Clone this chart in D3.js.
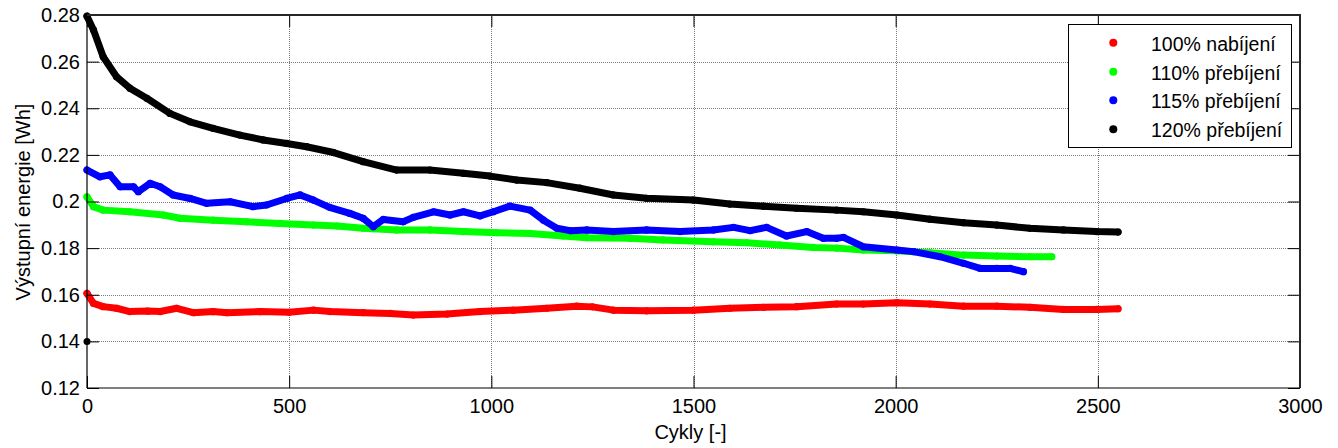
<!DOCTYPE html>
<html>
<head>
<meta charset="utf-8">
<script src="https://cdn.jsdelivr.net/npm/d3@7"></script>
<style>
  html, body { margin: 0; padding: 0; background: #fff; }
  svg { display: block; font-family: "Liberation Sans", Arial, sans-serif; }
</style>
</head>
<body>
<svg id="chart" width="1338" height="448"></svg>
<script>
// ---- data ----
const seriesNames = ["100% nabíjení", "110% přebíjení", "115% přebíjení", "120% přebíjení"];
const seriesColors = ["#ff0000", "#00ff00", "#0000ff", "#000000"];

const redCycles = [0, 16, 40, 73, 106, 150, 181, 222, 263, 312, 346, 428, 500, 560, 601, 683, 750, 807, 890, 972, 1054, 1137, 1211, 1250, 1302, 1384, 1500, 1590, 1673, 1755, 1854, 1920, 2003, 2085, 2168, 2250, 2332, 2415, 2497, 2550];
const redValues = [0.1606, 0.1563, 0.1549, 0.1542, 0.1528, 0.1530, 0.1528, 0.1542, 0.1523, 0.1528, 0.1523, 0.1528, 0.1525, 0.1534, 0.1528, 0.1523, 0.1520, 0.1513, 0.1517, 0.1528, 0.1534, 0.1542, 0.1551, 0.1548, 0.1534, 0.1531, 0.1534, 0.1542, 0.1546, 0.1549, 0.1560, 0.1560, 0.1566, 0.1560, 0.1551, 0.1551, 0.1546, 0.1537, 0.1537, 0.1540];

const greenCycles = [0, 16, 40, 106, 189, 230, 312, 395, 477, 560, 618, 683, 766, 848, 931, 1013, 1096, 1178, 1236, 1343, 1425, 1549, 1632, 1714, 1796, 1854, 1920, 2003, 2085, 2168, 2250, 2332, 2386];
const greenValues = [0.2020, 0.1978, 0.1963, 0.1956, 0.1942, 0.1928, 0.1920, 0.1913, 0.1906, 0.1899, 0.1895, 0.1885, 0.1878, 0.1878, 0.1871, 0.1866, 0.1863, 0.1852, 0.1845, 0.1842, 0.1835, 0.1827, 0.1823, 0.1813, 0.1803, 0.1800, 0.1792, 0.1789, 0.1780, 0.1770, 0.1766, 0.1763, 0.1763];

const blueCycles = [0, 32, 57, 82, 115, 127, 156, 181, 213, 255, 296, 354, 411, 444, 494, 527, 560, 600, 650, 683, 708, 733, 782, 807, 857, 898, 931, 972, 1005, 1046, 1096, 1129, 1162, 1195, 1236, 1302, 1384, 1467, 1549, 1599, 1640, 1681, 1730, 1780, 1821, 1854, 1871, 1920, 2003, 2044, 2110, 2168, 2209, 2250, 2283, 2316];
const blueValues = [0.2135, 0.2106, 0.2114, 0.2063, 0.2063, 0.2042, 0.2078, 0.2063, 0.2028, 0.2013, 0.1992, 0.1999, 0.1978, 0.1985, 0.2013, 0.2028, 0.2006, 0.1975, 0.1949, 0.1928, 0.1892, 0.1923, 0.1913, 0.1932, 0.1956, 0.1942, 0.1956, 0.1938, 0.1956, 0.1980, 0.1963, 0.1920, 0.1885, 0.1875, 0.1878, 0.1871, 0.1878, 0.1871, 0.1878, 0.1889, 0.1875, 0.1889, 0.1852, 0.1871, 0.1842, 0.1842, 0.1846, 0.1806, 0.1792, 0.1785, 0.1763, 0.1735, 0.1713, 0.1713, 0.1713, 0.1699];

const blackCycles = [0, 16, 40, 73, 106, 148, 205, 255, 312, 378, 436, 494, 543, 610, 683, 766, 848, 931, 997, 1063, 1137, 1219, 1302, 1384, 1500, 1590, 1673, 1755, 1854, 1920, 2003, 2085, 2168, 2250, 2332, 2415, 2497, 2550];
const blackValues = [0.2795, 0.2736, 0.2621, 0.2535, 0.2486, 0.2443, 0.2378, 0.2342, 0.2314, 0.2285, 0.2264, 0.2249, 0.2235, 0.2210, 0.2171, 0.2135, 0.2135, 0.2121, 0.2109, 0.2092, 0.2081, 0.2057, 0.2028, 0.2014, 0.2006, 0.1989, 0.1980, 0.1971, 0.1963, 0.1956, 0.1942, 0.1924, 0.1909, 0.1899, 0.1885, 0.1878, 0.1871, 0.1869];
// first measurement of the 120% series (outlier)
const blackOutlierCycles = [0];
const blackOutlierValues = [0.14];

const xTicks = [0, 500, 1000, 1500, 2000, 2500, 3000];
const xTickLabels = ["0", "500", "1000", "1500", "2000", "2500", "3000"];
const yTicks = [0.12, 0.14, 0.16, 0.18, 0.2, 0.22, 0.24, 0.26, 0.28];
const yTickLabels = ["0.12", "0.14", "0.16", "0.18", "0.2", "0.22", "0.24", "0.26", "0.28"];
const xTitle = "Cykly [-]";
const yTitle = "Výstupní energie [Wh]";

// ---- layout ----
const L = 87, R = 1300, T = 15, B = 388;
const svg = d3.select("#chart");
svg.append("rect").attr("width", 1338).attr("height", 448).attr("fill", "#fff");

const x = d3.scaleLinear().domain([0, 3000]).range([L, R]);
const y = d3.scaleLinear().domain([0.12, 0.28]).range([B, T]);

// grid
const grid = svg.append("g").attr("stroke", "#7a7a7a").attr("stroke-width", 1).attr("stroke-dasharray", "1,1").attr("shape-rendering", "crispEdges");
grid.selectAll("line.v").data(xTicks.slice(1, -1)).join("line")
  .attr("x1", d => Math.round(x(d)) + 0.5).attr("x2", d => Math.round(x(d)) + 0.5)
  .attr("y1", T).attr("y2", B);
grid.selectAll("line.h").data(yTicks.slice(1, -1)).join("line")
  .attr("x1", L).attr("x2", R)
  .attr("y1", d => Math.round(y(d)) + 0.5).attr("y2", d => Math.round(y(d)) + 0.5);

// series
const series = [
  { c: redCycles, v: redValues },
  { c: greenCycles, v: greenValues },
  { c: blueCycles, v: blueValues },
  { c: blackCycles, v: blackValues }
];
const line = d3.line().x(d => x(d[0])).y(d => y(d[1])).curve(d3.curveLinear);
series.forEach((s, i) => {
  const pts = s.c.map((c, j) => [c, s.v[j]]);
  svg.append("path").datum(pts)
    .attr("d", line)
    .attr("fill", "none")
    .attr("stroke", seriesColors[i])
    .attr("stroke-width", 7)
    .attr("stroke-linecap", "round")
    .attr("stroke-linejoin", "round");
  svg.append("g").selectAll("circle").data(pts).join("circle")
    .attr("cx", d => x(d[0])).attr("cy", d => y(d[1])).attr("r", 3.6)
    .attr("fill", seriesColors[i]);
});
svg.append("g").selectAll("circle").data(blackOutlierCycles.map((c, j) => [c, blackOutlierValues[j]])).join("circle")
  .attr("cx", d => x(d[0])).attr("cy", d => y(d[1])).attr("r", 3.5).attr("fill", "#000");

// axes
const fmtX = d => xTickLabels[xTicks.indexOf(d)];
const fmtY = d => yTickLabels[yTicks.findIndex(t => Math.abs(t - d) < 1e-9)];

function styleAxis(g, labels) {
  g.select(".domain").remove();
  g.selectAll(".tick line").attr("stroke", "#000").attr("stroke-width", 1);
  g.selectAll(".tick text").attr("fill", "#000").attr("font-size", 20)
    .attr("font-family", "'Liberation Sans', Arial, sans-serif");
  if (!labels) g.selectAll(".tick text").remove();
}

svg.append("g").attr("transform", `translate(0,${B})`)
  .call(d3.axisBottom(x).tickValues(xTicks).tickFormat(fmtX).tickSize(-12).tickPadding(11))
  .call(g => styleAxis(g, true));
svg.append("g").attr("transform", `translate(0,${T})`)
  .call(d3.axisTop(x).tickValues(xTicks).tickSize(-12))
  .call(g => styleAxis(g, false));
svg.append("g").attr("transform", `translate(${L},0)`)
  .call(d3.axisLeft(y).tickValues(yTicks).tickFormat(fmtY).tickSize(-12).tickPadding(7))
  .call(g => styleAxis(g, true));
svg.append("g").attr("transform", `translate(${R},0)`)
  .call(d3.axisRight(y).tickValues(yTicks).tickSize(-12))
  .call(g => styleAxis(g, false));

// frame
svg.append("line").attr("x1", L).attr("x2", L).attr("y1", T).attr("y2", B).attr("stroke", "#000").attr("stroke-width", 1.2);
svg.append("line").attr("x1", L).attr("x2", R).attr("y1", B).attr("y2", B).attr("stroke", "#000").attr("stroke-width", 1.2);
svg.append("line").attr("x1", L).attr("x2", R + 1).attr("y1", T).attr("y2", T).attr("stroke", "#262626").attr("stroke-width", 2);
svg.append("line").attr("x1", R).attr("x2", R).attr("y1", T).attr("y2", B).attr("stroke", "#262626").attr("stroke-width", 2);

// titles
svg.append("text").attr("x", 690.5).attr("y", 439).attr("text-anchor", "middle")
  .attr("font-size", 20).attr("fill", "#000").text(xTitle);
svg.append("text").attr("transform", "translate(29.5,202) rotate(-90)").attr("text-anchor", "middle")
  .attr("font-size", 20).attr("fill", "#000").text(yTitle);

// legend
const lg = svg.append("g");
lg.append("rect").attr("x", 1068.5).attr("y", 24.5).attr("width", 223).attr("height", 123)
  .attr("fill", "#fff").attr("stroke", "#000").attr("stroke-width", 1);
const legendY = [42.7, 71.7, 100.3, 129.3];
seriesNames.forEach((name, i) => {
  lg.append("circle").attr("cx", 1113.3).attr("cy", legendY[i]).attr("r", 4).attr("fill", seriesColors[i]);
  lg.append("text").attr("x", 1151).attr("y", legendY[i] + 8).attr("font-size", 19.5)
    .attr("fill", "#000").text(name);
});
</script>
</body>
</html>
